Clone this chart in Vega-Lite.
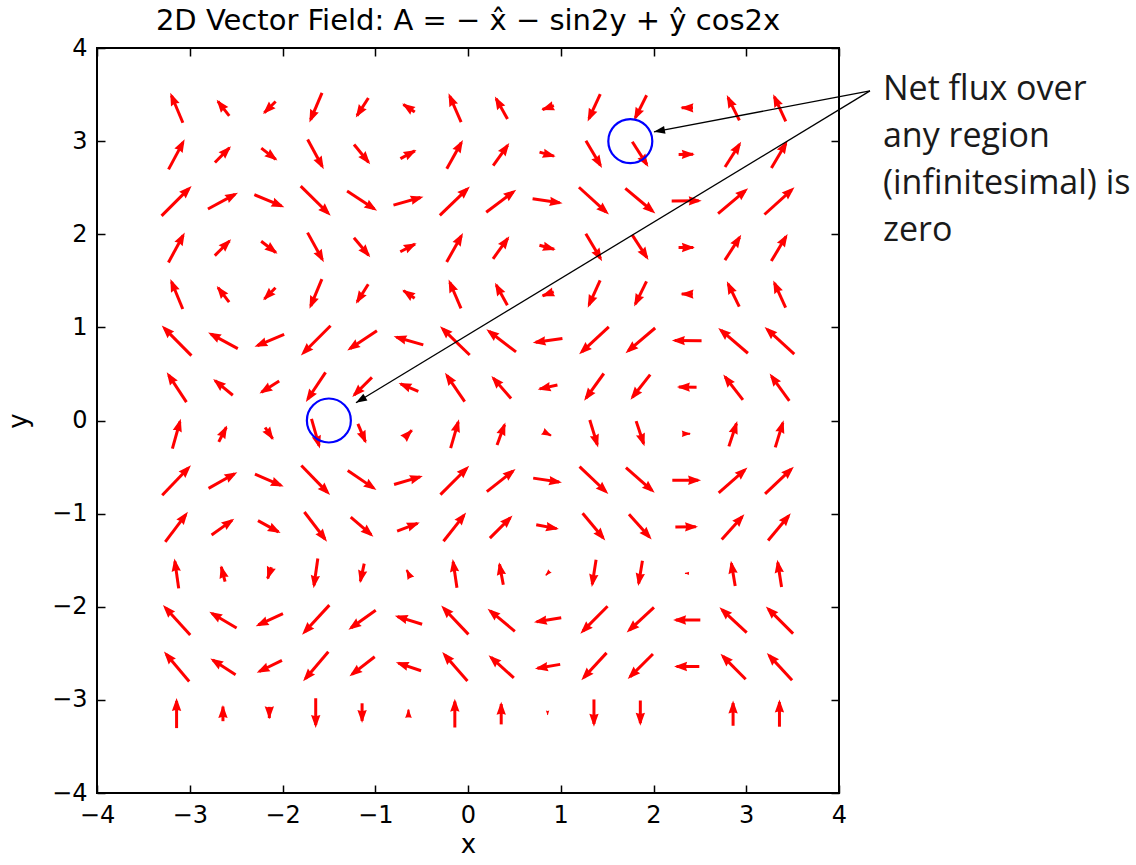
{
  "$schema": "https://vega.github.io/schema/vega-lite/v6.json",
  "width": 742,
  "height": 745,
  "autosize": {"type": "none"},
  "padding": {"left": 97, "top": 48, "right": 297, "bottom": 72},
  "background": "white",
  "title": {"text": "2D Vector Field: A = − x̂ − sin2y + ŷ cos2x", "font": "DejaVu Sans", "fontSize": 29, "fontWeight": "normal", "color": "black", "baseline": "alphabetic", "offset": 13, "dy": 36, "anchor": "middle"},
  "config": {
    "view": {"stroke": "black", "strokeWidth": 2},
    "axis": {"domain": false, "grid": false, "tickColor": "black", "tickSize": -8, "tickWidth": 1.5, "labelFont": "DejaVu Sans", "labelFontSize": 24, "labelColor": "black", "labelFlush": false, "labelOverlap": false, "labelPadding": 18, "titleFont": "DejaVu Sans", "titleFontSize": 26, "titleFontWeight": "normal", "titleColor": "black"}
  },
  "datasets": {
    "field": [
      {"x":-3.142,"y":-3.142,"xt":-3.142,"yt":-2.981,"a":0,"m":1},
      {"x":-2.642,"y":-3.142,"xt":-2.642,"yt":-3.055,"a":0,"m":0.54},
      {"x":-2.142,"y":-3.142,"xt":-2.142,"yt":-3.209,"a":180,"m":0.416},
      {"x":-1.642,"y":-3.142,"xt":-1.642,"yt":-3.301,"a":180,"m":0.99},
      {"x":-1.142,"y":-3.142,"xt":-1.142,"yt":-3.247,"a":180,"m":0.654},
      {"x":-0.642,"y":-3.142,"xt":-0.642,"yt":-3.096,"a":0,"m":0.284},
      {"x":-0.142,"y":-3.142,"xt":-0.142,"yt":-2.987,"a":0,"m":0.96},
      {"x":0.358,"y":-3.142,"xt":0.358,"yt":-3.021,"a":0,"m":0.754},
      {"x":0.858,"y":-3.142,"xt":0.858,"yt":-3.166,"a":180,"m":0.146},
      {"x":1.358,"y":-3.142,"xt":1.358,"yt":-3.289,"a":180,"m":0.911},
      {"x":1.858,"y":-3.142,"xt":1.858,"yt":-3.277,"a":180,"m":0.839},
      {"x":2.358,"y":-3.142,"xt":2.358,"yt":-3.141,"a":0,"m":0.004},
      {"x":2.858,"y":-3.142,"xt":2.858,"yt":-3.006,"a":0,"m":0.844},
      {"x":3.358,"y":-3.142,"xt":3.358,"yt":-2.996,"a":0,"m":0.907},

      {"x":-3.142,"y":-2.642,"xt":-3.278,"yt":-2.481,"a":-40.1,"m":1.307},
      {"x":-2.642,"y":-2.642,"xt":-2.778,"yt":-2.555,"a":-57.3,"m":1.0},
      {"x":-2.142,"y":-2.642,"xt":-2.278,"yt":-2.709,"a":-116.3,"m":0.939},
      {"x":-1.642,"y":-2.642,"xt":-1.778,"yt":-2.801,"a":-139.6,"m":1.299},
      {"x":-1.142,"y":-2.642,"xt":-1.278,"yt":-2.747,"a":-127.8,"m":1.066},
      {"x":-0.642,"y":-2.642,"xt":-0.778,"yt":-2.596,"a":-71.4,"m":0.888},
      {"x":-0.142,"y":-2.642,"xt":-0.278,"yt":-2.487,"a":-41.2,"m":1.277},
      {"x":0.358,"y":-2.642,"xt":0.222,"yt":-2.521,"a":-48.1,"m":1.13},
      {"x":0.858,"y":-2.642,"xt":0.722,"yt":-2.666,"a":-99.8,"m":0.854},
      {"x":1.358,"y":-2.642,"xt":1.222,"yt":-2.789,"a":-137.3,"m":1.24},
      {"x":1.858,"y":-2.642,"xt":1.722,"yt":-2.777,"a":-134.9,"m":1.188},
      {"x":2.358,"y":-2.642,"xt":2.222,"yt":-2.641,"a":-89.7,"m":0.841},
      {"x":2.858,"y":-2.642,"xt":2.722,"yt":-2.506,"a":-44.9,"m":1.192},
      {"x":3.358,"y":-2.642,"xt":3.222,"yt":-2.496,"a":-42.8,"m":1.238},

      {"x":-3.142,"y":-2.142,"xt":-3.289,"yt":-1.981,"a":-42.3,"m":1.352},
      {"x":-2.642,"y":-2.142,"xt":-2.789,"yt":-2.055,"a":-59.3,"m":1.058},
      {"x":-2.142,"y":-2.142,"xt":-2.289,"yt":-2.209,"a":-114.6,"m":1.0},
      {"x":-1.642,"y":-2.142,"xt":-1.789,"yt":-2.301,"a":-137.4,"m":1.344},
      {"x":-1.142,"y":-2.142,"xt":-1.289,"yt":-2.247,"a":-125.7,"m":1.12},
      {"x":-0.642,"y":-2.142,"xt":-0.789,"yt":-2.096,"a":-72.7,"m":0.953},
      {"x":-0.142,"y":-2.142,"xt":-0.289,"yt":-1.987,"a":-43.4,"m":1.322},
      {"x":0.358,"y":-2.142,"xt":0.211,"yt":-2.021,"a":-50.3,"m":1.181},
      {"x":0.858,"y":-2.142,"xt":0.711,"yt":-2.166,"a":-99.1,"m":0.921},
      {"x":1.358,"y":-2.142,"xt":1.211,"yt":-2.289,"a":-135.1,"m":1.287},
      {"x":1.858,"y":-2.142,"xt":1.711,"yt":-2.277,"a":-132.7,"m":1.237},
      {"x":2.358,"y":-2.142,"xt":2.211,"yt":-2.141,"a":-89.7,"m":0.909},
      {"x":2.858,"y":-2.142,"xt":2.711,"yt":-2.006,"a":-47.1,"m":1.241},
      {"x":3.358,"y":-2.142,"xt":3.211,"yt":-1.996,"a":-45.1,"m":1.285},

      {"x":-3.142,"y":-1.642,"xt":-3.165,"yt":-1.481,"a":-8.0,"m":1.01},
      {"x":-2.642,"y":-1.642,"xt":-2.665,"yt":-1.555,"a":-14.6,"m":0.558},
      {"x":-2.142,"y":-1.642,"xt":-2.165,"yt":-1.709,"a":-161.3,"m":0.439},
      {"x":-1.642,"y":-1.642,"xt":-1.665,"yt":-1.801,"a":-171.9,"m":1.0},
      {"x":-1.142,"y":-1.642,"xt":-1.165,"yt":-1.747,"a":-167.8,"m":0.669},
      {"x":-0.642,"y":-1.642,"xt":-0.665,"yt":-1.596,"a":-26.5,"m":0.317},
      {"x":-0.142,"y":-1.642,"xt":-0.165,"yt":-1.487,"a":-8.4,"m":0.971},
      {"x":0.358,"y":-1.642,"xt":0.335,"yt":-1.521,"a":-10.6,"m":0.767},
      {"x":0.858,"y":-1.642,"xt":0.835,"yt":-1.666,"a":-135.9,"m":0.203},
      {"x":1.358,"y":-1.642,"xt":1.335,"yt":-1.789,"a":-171.2,"m":0.922},
      {"x":1.858,"y":-1.642,"xt":1.835,"yt":-1.777,"a":-170.5,"m":0.851},
      {"x":2.358,"y":-1.642,"xt":2.335,"yt":-1.641,"a":-88.2,"m":0.141},
      {"x":2.858,"y":-1.642,"xt":2.835,"yt":-1.506,"a":-9.5,"m":0.856},
      {"x":3.358,"y":-1.642,"xt":3.335,"yt":-1.496,"a":-8.8,"m":0.918},

      {"x":-3.142,"y":-1.142,"xt":-3.02,"yt":-0.981,"a":37.1,"m":1.254},
      {"x":-2.642,"y":-1.142,"xt":-2.52,"yt":-1.055,"a":54.5,"m":0.93},
      {"x":-2.142,"y":-1.142,"xt":-2.02,"yt":-1.209,"a":118.8,"m":0.864},
      {"x":-1.642,"y":-1.142,"xt":-1.52,"yt":-1.301,"a":142.6,"m":1.246},
      {"x":-1.142,"y":-1.142,"xt":-1.02,"yt":-1.247,"a":130.8,"m":1.0},
      {"x":-0.642,"y":-1.142,"xt":-0.52,"yt":-1.096,"a":69.5,"m":0.808},
      {"x":-0.142,"y":-1.142,"xt":-0.02,"yt":-0.987,"a":38.2,"m":1.223},
      {"x":0.358,"y":-1.142,"xt":0.48,"yt":-1.021,"a":45.1,"m":1.068},
      {"x":0.858,"y":-1.142,"xt":0.98,"yt":-1.166,"a":100.9,"m":0.771},
      {"x":1.358,"y":-1.142,"xt":1.48,"yt":-1.289,"a":140.3,"m":1.184},
      {"x":1.858,"y":-1.142,"xt":1.98,"yt":-1.277,"a":138.0,"m":1.13},
      {"x":2.358,"y":-1.142,"xt":2.48,"yt":-1.141,"a":89.7,"m":0.757},
      {"x":2.858,"y":-1.142,"xt":2.98,"yt":-1.006,"a":41.9,"m":1.134},
      {"x":3.358,"y":-1.142,"xt":3.48,"yt":-0.996,"a":39.8,"m":1.182},

      {"x":-3.142,"y":-0.642,"xt":-2.987,"yt":-0.481,"a":43.8,"m":1.385},
      {"x":-2.642,"y":-0.642,"xt":-2.487,"yt":-0.555,"a":60.6,"m":1.101},
      {"x":-2.142,"y":-0.642,"xt":-1.987,"yt":-0.709,"a":113.5,"m":1.045},
      {"x":-1.642,"y":-0.642,"xt":-1.487,"yt":-0.801,"a":135.9,"m":1.378},
      {"x":-1.142,"y":-0.642,"xt":-0.987,"yt":-0.747,"a":124.3,"m":1.16},
      {"x":-0.642,"y":-0.642,"xt":-0.487,"yt":-0.596,"a":73.5,"m":1.0},
      {"x":-0.142,"y":-0.642,"xt":0.013,"yt":-0.487,"a":45.0,"m":1.357},
      {"x":0.358,"y":-0.642,"xt":0.513,"yt":-0.521,"a":51.8,"m":1.22},
      {"x":0.858,"y":-0.642,"xt":1.013,"yt":-0.666,"a":98.6,"m":0.97},
      {"x":1.358,"y":-0.642,"xt":1.513,"yt":-0.789,"a":133.5,"m":1.323},
      {"x":1.858,"y":-0.642,"xt":2.013,"yt":-0.777,"a":131.2,"m":1.274},
      {"x":2.358,"y":-0.642,"xt":2.513,"yt":-0.641,"a":89.7,"m":0.959},
      {"x":2.858,"y":-0.642,"xt":3.013,"yt":-0.506,"a":48.7,"m":1.277},
      {"x":3.358,"y":-0.642,"xt":3.513,"yt":-0.496,"a":46.6,"m":1.32},

      {"x":-3.142,"y":-0.142,"xt":-3.097,"yt":0.019,"a":15.6,"m":1.038},
      {"x":-2.642,"y":-0.142,"xt":-2.597,"yt":-0.055,"a":27.4,"m":0.608},
      {"x":-2.142,"y":-0.142,"xt":-2.097,"yt":-0.209,"a":146.1,"m":0.501},
      {"x":-1.642,"y":-0.142,"xt":-1.597,"yt":-0.301,"a":164.2,"m":1.029},
      {"x":-1.142,"y":-0.142,"xt":-1.097,"yt":-0.247,"a":156.9,"m":0.711},
      {"x":-0.642,"y":-0.142,"xt":-0.597,"yt":-0.096,"a":44.6,"m":0.398},
      {"x":-0.142,"y":-0.142,"xt":-0.097,"yt":0.013,"a":16.2,"m":1.0},
      {"x":0.358,"y":-0.142,"xt":0.403,"yt":-0.021,"a":20.3,"m":0.804},
      {"x":0.858,"y":-0.142,"xt":0.903,"yt":-0.166,"a":117.5,"m":0.315},
      {"x":1.358,"y":-0.142,"xt":1.403,"yt":-0.289,"a":163.0,"m":0.953},
      {"x":1.858,"y":-0.142,"xt":1.903,"yt":-0.277,"a":161.6,"m":0.884},
      {"x":2.358,"y":-0.142,"xt":2.403,"yt":-0.141,"a":89.1,"m":0.279},
      {"x":2.858,"y":-0.142,"xt":2.903,"yt":-0.006,"a":18.3,"m":0.889},
      {"x":3.358,"y":-0.142,"xt":3.403,"yt":0.004,"a":17.1,"m":0.949},

      {"x":-3.142,"y":0.358,"xt":-3.248,"yt":0.519,"a":-33.3,"m":1.196},
      {"x":-2.642,"y":0.358,"xt":-2.748,"yt":0.445,"a":-50.6,"m":0.851},
      {"x":-2.142,"y":0.358,"xt":-2.248,"yt":0.291,"a":-122.3,"m":0.778},
      {"x":-1.642,"y":0.358,"xt":-1.748,"yt":0.199,"a":-146.4,"m":1.188},
      {"x":-1.142,"y":0.358,"xt":-1.248,"yt":0.253,"a":-134.9,"m":0.927},
      {"x":-0.642,"y":0.358,"xt":-0.748,"yt":0.404,"a":-66.7,"m":0.716},
      {"x":-0.142,"y":0.358,"xt":-0.248,"yt":0.513,"a":-34.4,"m":1.163},
      {"x":0.358,"y":0.358,"xt":0.252,"yt":0.479,"a":-41.1,"m":1.0},
      {"x":0.858,"y":0.358,"xt":0.752,"yt":0.334,"a":-102.5,"m":0.673},
      {"x":1.358,"y":0.358,"xt":1.252,"yt":0.211,"a":-144.2,"m":1.123},
      {"x":1.858,"y":0.358,"xt":1.752,"yt":0.223,"a":-141.9,"m":1.066},
      {"x":2.358,"y":0.358,"xt":2.252,"yt":0.359,"a":-89.6,"m":0.657},
      {"x":2.858,"y":0.358,"xt":2.752,"yt":0.494,"a":-37.9,"m":1.069},
      {"x":3.358,"y":0.358,"xt":3.252,"yt":0.504,"a":-35.9,"m":1.12},

      {"x":-3.142,"y":0.858,"xt":-3.302,"yt":1.019,"a":-44.7,"m":1.407},
      {"x":-2.642,"y":0.858,"xt":-2.802,"yt":0.945,"a":-61.4,"m":1.127},
      {"x":-2.142,"y":0.858,"xt":-2.302,"yt":0.791,"a":-112.8,"m":1.073},
      {"x":-1.642,"y":0.858,"xt":-1.802,"yt":0.699,"a":-135.0,"m":1.4},
      {"x":-1.142,"y":0.858,"xt":-1.302,"yt":0.753,"a":-123.5,"m":1.186},
      {"x":-0.642,"y":0.858,"xt":-0.802,"yt":0.904,"a":-74.0,"m":1.029},
      {"x":-0.142,"y":0.858,"xt":-0.302,"yt":1.013,"a":-45.9,"m":1.379},
      {"x":0.358,"y":0.858,"xt":0.198,"yt":0.979,"a":-52.7,"m":1.244},
      {"x":0.858,"y":0.858,"xt":0.698,"yt":0.834,"a":-98.4,"m":1.0},
      {"x":1.358,"y":0.858,"xt":1.198,"yt":0.711,"a":-132.6,"m":1.345},
      {"x":1.858,"y":0.858,"xt":1.698,"yt":0.723,"a":-130.3,"m":1.297},
      {"x":2.358,"y":0.858,"xt":2.198,"yt":0.859,"a":-89.7,"m":0.989},
      {"x":2.858,"y":0.858,"xt":2.698,"yt":0.994,"a":-49.5,"m":1.3},
      {"x":3.358,"y":0.858,"xt":3.198,"yt":1.004,"a":-47.5,"m":1.342},

      {"x":-3.142,"y":1.358,"xt":-3.209,"yt":1.519,"a":-22.4,"m":1.082},
      {"x":-2.642,"y":1.358,"xt":-2.709,"yt":1.445,"a":-37.3,"m":0.679},
      {"x":-2.142,"y":1.358,"xt":-2.209,"yt":1.291,"a":-135.3,"m":0.586},
      {"x":-1.642,"y":1.358,"xt":-1.709,"yt":1.199,"a":-157.4,"m":1.072},
      {"x":-1.142,"y":1.358,"xt":-1.209,"yt":1.253,"a":-147.8,"m":0.773},
      {"x":-0.642,"y":1.358,"xt":-0.709,"yt":1.404,"a":-55.5,"m":0.5},
      {"x":-0.142,"y":1.358,"xt":-0.209,"yt":1.513,"a":-23.2,"m":1.045},
      {"x":0.358,"y":1.358,"xt":0.291,"yt":1.479,"a":-28.7,"m":0.859},
      {"x":0.858,"y":1.358,"xt":0.791,"yt":1.334,"a":-109.5,"m":0.437},
      {"x":1.358,"y":1.358,"xt":1.291,"yt":1.211,"a":-155.7,"m":1.0},
      {"x":1.858,"y":1.358,"xt":1.791,"yt":1.223,"a":-153.8,"m":0.935},
      {"x":2.358,"y":1.358,"xt":2.291,"yt":1.359,"a":-89.4,"m":0.412},
      {"x":2.858,"y":1.358,"xt":2.791,"yt":1.494,"a":-26.0,"m":0.939},
      {"x":3.358,"y":1.358,"xt":3.291,"yt":1.504,"a":-24.4,"m":0.997},

      {"x":-3.142,"y":1.858,"xt":-3.054,"yt":2.019,"a":28.5,"m":1.138},
      {"x":-2.642,"y":1.858,"xt":-2.554,"yt":1.945,"a":45.2,"m":0.767},
      {"x":-2.142,"y":1.858,"xt":-2.054,"yt":1.791,"a":127.4,"m":0.685},
      {"x":-1.642,"y":1.858,"xt":-1.554,"yt":1.699,"a":151.2,"m":1.13},
      {"x":-1.142,"y":1.858,"xt":-1.054,"yt":1.753,"a":140.2,"m":0.85},
      {"x":-0.642,"y":1.858,"xt":-0.554,"yt":1.904,"a":62.5,"m":0.614},
      {"x":-0.142,"y":1.858,"xt":-0.054,"yt":2.013,"a":29.5,"m":1.104},
      {"x":0.358,"y":1.858,"xt":0.446,"yt":1.979,"a":35.8,"m":0.93},
      {"x":0.858,"y":1.858,"xt":0.946,"yt":1.834,"a":105.0,"m":0.563},
      {"x":1.358,"y":1.858,"xt":1.446,"yt":1.711,"a":149.2,"m":1.061},
      {"x":1.858,"y":1.858,"xt":1.946,"yt":1.723,"a":147.0,"m":1.0},
      {"x":2.358,"y":1.858,"xt":2.446,"yt":1.859,"a":89.5,"m":0.544},
      {"x":2.858,"y":1.858,"xt":2.946,"yt":1.994,"a":32.8,"m":1.004},
      {"x":3.358,"y":1.858,"xt":3.446,"yt":2.004,"a":30.9,"m":1.058},

      {"x":-3.142,"y":2.358,"xt":-2.98,"yt":2.519,"a":45.0,"m":1.414},
      {"x":-2.642,"y":2.358,"xt":-2.48,"yt":2.445,"a":61.6,"m":1.137},
      {"x":-2.142,"y":2.358,"xt":-1.98,"yt":2.291,"a":112.6,"m":1.083},
      {"x":-1.642,"y":2.358,"xt":-1.48,"yt":2.199,"a":134.7,"m":1.407},
      {"x":-1.142,"y":2.358,"xt":-0.98,"yt":2.253,"a":123.2,"m":1.195},
      {"x":-0.642,"y":2.358,"xt":-0.48,"yt":2.404,"a":74.2,"m":1.039},
      {"x":-0.142,"y":2.358,"xt":0.02,"yt":2.513,"a":46.2,"m":1.386},
      {"x":0.358,"y":2.358,"xt":0.52,"yt":2.479,"a":53.0,"m":1.252},
      {"x":0.858,"y":2.358,"xt":1.02,"yt":2.334,"a":98.3,"m":1.011},
      {"x":1.358,"y":2.358,"xt":1.52,"yt":2.211,"a":132.3,"m":1.353},
      {"x":1.858,"y":2.358,"xt":2.02,"yt":2.223,"a":130.0,"m":1.305},
      {"x":2.358,"y":2.358,"xt":2.52,"yt":2.359,"a":89.7,"m":1.0},
      {"x":2.858,"y":2.358,"xt":3.02,"yt":2.494,"a":49.8,"m":1.309},
      {"x":3.358,"y":2.358,"xt":3.52,"yt":2.504,"a":47.8,"m":1.35},

      {"x":-3.142,"y":2.858,"xt":-3.055,"yt":3.019,"a":28.2,"m":1.135},
      {"x":-2.642,"y":2.858,"xt":-2.555,"yt":2.945,"a":44.8,"m":0.761},
      {"x":-2.142,"y":2.858,"xt":-2.055,"yt":2.791,"a":127.8,"m":0.679},
      {"x":-1.642,"y":2.858,"xt":-1.555,"yt":2.699,"a":151.5,"m":1.126},
      {"x":-1.142,"y":2.858,"xt":-1.055,"yt":2.753,"a":140.6,"m":0.846},
      {"x":-0.642,"y":2.858,"xt":-0.555,"yt":2.904,"a":62.1,"m":0.607},
      {"x":-0.142,"y":2.858,"xt":-0.055,"yt":3.013,"a":29.2,"m":1.1},
      {"x":0.358,"y":2.858,"xt":0.445,"yt":2.979,"a":35.4,"m":0.925},
      {"x":0.858,"y":2.858,"xt":0.945,"yt":2.834,"a":105.2,"m":0.556},
      {"x":1.358,"y":2.858,"xt":1.445,"yt":2.711,"a":149.5,"m":1.057},
      {"x":1.858,"y":2.858,"xt":1.945,"yt":2.723,"a":147.4,"m":0.996},
      {"x":2.358,"y":2.858,"xt":2.445,"yt":2.859,"a":89.5,"m":0.537},
      {"x":2.858,"y":2.858,"xt":2.945,"yt":2.994,"a":32.5,"m":1.0},
      {"x":3.358,"y":2.858,"xt":3.445,"yt":3.004,"a":30.6,"m":1.054},

      {"x":-3.142,"y":3.358,"xt":-3.21,"yt":3.519,"a":-22.8,"m":1.085},
      {"x":-2.642,"y":3.358,"xt":-2.71,"yt":3.445,"a":-37.9,"m":0.684},
      {"x":-2.142,"y":3.358,"xt":-2.21,"yt":3.291,"a":-134.7,"m":0.591},
      {"x":-1.642,"y":3.358,"xt":-1.71,"yt":3.199,"a":-157.0,"m":1.076},
      {"x":-1.142,"y":3.358,"xt":-1.21,"yt":3.253,"a":-147.3,"m":0.777},
      {"x":-0.642,"y":3.358,"xt":-0.71,"yt":3.404,"a":-56.0,"m":0.507},
      {"x":-0.142,"y":3.358,"xt":-0.21,"yt":3.513,"a":-23.6,"m":1.048},
      {"x":0.358,"y":3.358,"xt":0.29,"yt":3.479,"a":-29.1,"m":0.863},
      {"x":0.858,"y":3.358,"xt":0.79,"yt":3.334,"a":-109.1,"m":0.445},
      {"x":1.358,"y":3.358,"xt":1.29,"yt":3.211,"a":-155.2,"m":1.003},
      {"x":1.858,"y":3.358,"xt":1.79,"yt":3.223,"a":-153.4,"m":0.938},
      {"x":2.358,"y":3.358,"xt":2.29,"yt":3.359,"a":-89.4,"m":0.42},
      {"x":2.858,"y":3.358,"xt":2.79,"yt":3.494,"a":-26.5,"m":0.943},
      {"x":3.358,"y":3.358,"xt":3.29,"yt":3.504,"a":-24.9,"m":1.0}
    ],
    "circles": [
      {"x": 1.75, "y": 3.0},
      {"x": -1.5, "y": 0.0}
    ],
    "pointers": [
      {"x": 4.334, "y": 3.539, "x2": 2.005, "y2": 3.10, "a": -100.7},
      {"x": 4.334, "y": 3.539, "x2": -1.208, "y2": 0.191, "a": -121.2}
    ],
    "note": [
      {"x": 4.474, "y": 3.443, "t": "Net flux over\nany region\n(infinitesimal) is\nzero"}
    ]
  },
  "resolve": {"axis": {"x": "independent", "y": "independent"}, "scale": {"size": "independent", "strokeWidth": "independent"}},
  "layer": [
    {
      "data": {"name": "field"},
      "mark": {"type": "point", "shape": "M0,-0.8L0,1", "filled": false, "color": "#ff0000", "opacity": 1, "strokeCap": "butt"},
      "encoding": {
        "x": {"field": "x", "type": "quantitative", "scale": {"domain": [-4, 4], "nice": false, "zero": false}, "axis": {"orient": "bottom", "values": [-4, -3, -2, -1, 0, 1, 2, 3, 4], "title": "x", "titlePadding": 4}},
        "y": {"field": "y", "type": "quantitative", "scale": {"domain": [-4, 4], "nice": false, "zero": false}, "axis": {"orient": "left", "values": [-4, -3, -2, -1, 0, 1, 2, 3, 4], "title": "y", "titlePadding": 20}},
        "angle": {"field": "a", "type": "quantitative", "scale": null},
        "size": {"field": "m", "type": "quantitative", "scale": {"type": "pow", "exponent": 2, "domain": [0, 1], "range": [0, 900]}, "legend": null},
        "strokeWidth": {"field": "m", "type": "quantitative", "scale": {"domain": [0, 0.4], "range": [0, 3], "clamp": true}, "legend": null}
      }
    },
    {
      "data": {"name": "field"},
      "mark": {"type": "point", "shape": "M0,0L0.36,1L0,0.9L-0.36,1Z", "filled": true, "color": "#ff0000", "opacity": 1, "strokeWidth": 0},
      "encoding": {
        "x": {"field": "xt", "type": "quantitative", "scale": {"domain": [-4, 4], "nice": false, "zero": false}, "axis": null},
        "y": {"field": "yt", "type": "quantitative", "scale": {"domain": [-4, 4], "nice": false, "zero": false}, "axis": null},
        "angle": {"field": "a", "type": "quantitative", "scale": null},
        "size": {"field": "m", "type": "quantitative", "scale": {"type": "pow", "exponent": 2, "domain": [0, 0.4], "range": [0, 676], "clamp": true}, "legend": null}
      }
    },
    {
      "data": {"name": "circles"},
      "mark": {"type": "point", "shape": "circle", "filled": false, "color": "#0000ff", "opacity": 1, "size": 1936, "strokeWidth": 2.2},
      "encoding": {
        "x": {"field": "x", "type": "quantitative", "scale": {"domain": [-4, 4], "nice": false, "zero": false}, "axis": {"orient": "top", "values": [-4, -3, -2, -1, 0, 1, 2, 3, 4], "labels": false, "title": null}},
        "y": {"field": "y", "type": "quantitative", "scale": {"domain": [-4, 4], "nice": false, "zero": false}, "axis": {"orient": "right", "values": [-4, -3, -2, -1, 0, 1, 2, 3, 4], "labels": false, "title": null}}
      }
    },
    {
      "data": {"name": "pointers"},
      "mark": {"type": "rule", "color": "black", "strokeWidth": 1.3},
      "encoding": {
        "x": {"field": "x", "type": "quantitative", "scale": {"domain": [-4, 4], "nice": false, "zero": false}, "axis": null},
        "y": {"field": "y", "type": "quantitative", "scale": {"domain": [-4, 4], "nice": false, "zero": false}, "axis": null},
        "x2": {"field": "x2"},
        "y2": {"field": "y2"}
      }
    },
    {
      "data": {"name": "pointers"},
      "mark": {"type": "point", "shape": "M0,0L0.36,1L-0.36,1Z", "filled": true, "color": "black", "opacity": 1, "size": 484, "strokeWidth": 0},
      "encoding": {
        "x": {"field": "x2", "type": "quantitative", "scale": {"domain": [-4, 4], "nice": false, "zero": false}, "axis": null},
        "y": {"field": "y2", "type": "quantitative", "scale": {"domain": [-4, 4], "nice": false, "zero": false}, "axis": null},
        "angle": {"field": "a", "type": "quantitative", "scale": null}
      }
    },
    {
      "data": {"name": "note"},
      "mark": {"type": "text", "font": "Open Sans", "fontSize": 34, "align": "left", "baseline": "alphabetic", "lineBreak": "\n", "lineHeight": 47, "color": "#1a1a1a"},
      "encoding": {
        "x": {"field": "x", "type": "quantitative", "scale": {"domain": [-4, 4], "nice": false, "zero": false}, "axis": null},
        "y": {"field": "y", "type": "quantitative", "scale": {"domain": [-4, 4], "nice": false, "zero": false}, "axis": null},
        "text": {"field": "t"}
      }
    }
  ]
}
